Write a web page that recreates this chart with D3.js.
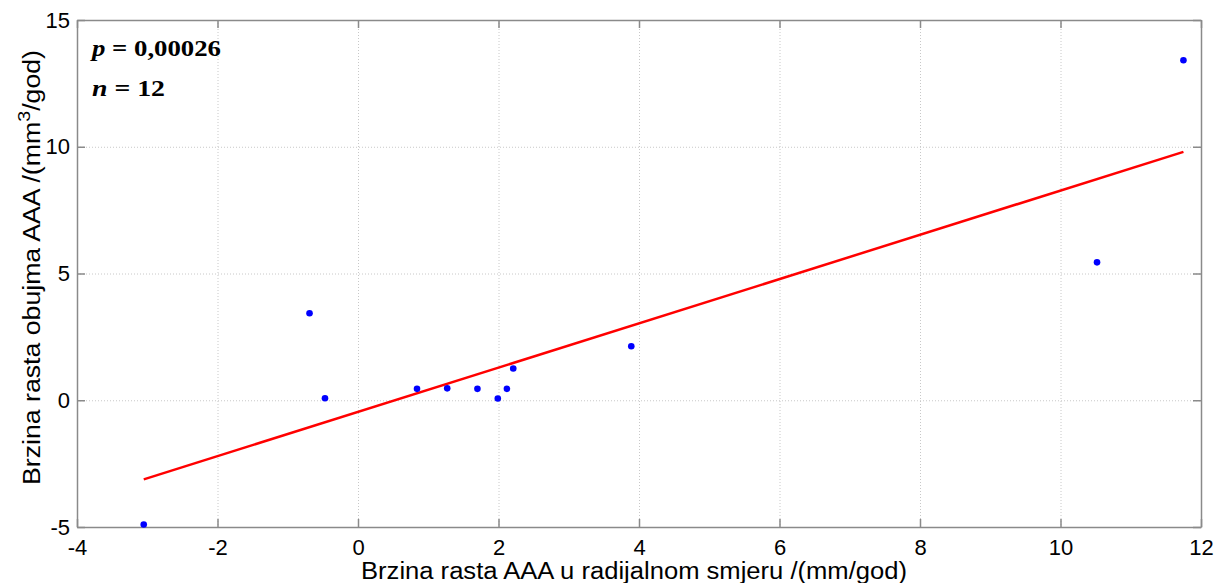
<!DOCTYPE html>
<html>
<head>
<meta charset="utf-8">
<script src="https://cdn.jsdelivr.net/npm/d3@7"></script>
<style>
  body { margin: 0; background: #fff; }
  .axis text { font-family: "Liberation Sans", Arial, sans-serif; font-size: 22px; fill: #000; }
  .ann { font-family: "Liberation Serif", "Times New Roman", serif; font-weight: bold; font-size: 24px; }
</style>
</head>
<body>
<div id="chart"></div>
<script>
// radial growth rate (mm/god) and volume growth rate (mm3/god)
var radialRate = [-3.05, -0.69, -0.47, 0.84, 1.27, 1.70, 1.99, 2.12, 2.21, 3.89, 10.52, 11.75];
var volumeRate = [-4.90, 3.43, 0.08, 0.45, 0.47, 0.45, 0.07, 0.45, 1.25, 2.13, 5.44, 13.41];
// fitted line end points
var fitX = [-3.05, 11.75];
var fitY = [-3.12, 9.80];
var xTicks = [-4, -2, 0, 2, 4, 6, 8, 10, 12];
var yTicks = [-5, 0, 5, 10, 15];

var W = 1222, H = 583;
var mLeft = 77, mTop = 20, mRight = 1201, mBottom = 527;

var svg = d3.select('#chart').append('svg')
  .attr('width', W).attr('height', H);

var x = d3.scaleLinear().domain([-4, 12]).range([mLeft, mRight]),
    y = d3.scaleLinear().domain([-5, 15]).range([mBottom, mTop]);

// grid
var grid = svg.append('g').attr('stroke', '#c8c8c8').attr('stroke-width', 1)
  .attr('stroke-dasharray', '1,2');
grid.selectAll('.gx').data(xTicks.slice(1, -1)).enter().append('line')
  .attr('x1', function(d) { return x(d) + 0.5; }).attr('x2', function(d) { return x(d) + 0.5; })
  .attr('y1', mTop).attr('y2', mBottom);
grid.selectAll('.gy').data(yTicks.slice(1, -1)).enter().append('line')
  .attr('y1', function(d) { return y(d) + 0.5; }).attr('y2', function(d) { return y(d) + 0.5; })
  .attr('x1', mLeft).attr('x2', mRight);

// axes (box style, ticks inside)
var axColor = '#8a8a8a';
function styleAxis(g) {
  g.select('.domain').attr('stroke', axColor).attr('stroke-width', 1.5);
  g.selectAll('.tick line').attr('stroke', axColor).attr('stroke-width', 1.5);
}
svg.append('g').attr('class', 'axis')
  .attr('transform', 'translate(0,' + mBottom + ')')
  .call(d3.axisBottom(x).tickValues(xTicks).tickSizeInner(-8).tickSizeOuter(0).tickPadding(12))
  .call(styleAxis);
svg.append('g').attr('class', 'axis')
  .attr('transform', 'translate(0,' + mTop + ')')
  .call(d3.axisTop(x).tickValues(xTicks).tickSizeInner(-8).tickSizeOuter(0).tickFormat(''))
  .call(styleAxis);
svg.append('g').attr('class', 'axis')
  .attr('transform', 'translate(' + mLeft + ',0)')
  .call(d3.axisLeft(y).tickValues(yTicks).tickSizeInner(-8).tickSizeOuter(0).tickPadding(7))
  .call(styleAxis);
svg.append('g').attr('class', 'axis')
  .attr('transform', 'translate(' + mRight + ',0)')
  .call(d3.axisRight(y).tickValues(yTicks).tickSizeInner(-8).tickSizeOuter(0).tickFormat(''))
  .call(styleAxis);
svg.selectAll('.axis text').text(function() { return this.textContent.replace('\u2212', '-'); });

// fitted line
svg.append('line')
  .attr('x1', x(fitX[0])).attr('y1', y(fitY[0]))
  .attr('x2', x(fitX[1])).attr('y2', y(fitY[1]))
  .attr('stroke', '#ff0000').attr('stroke-width', 2.5);

// points
svg.selectAll('.pt').data(radialRate).enter().append('circle')
  .attr('cx', function(d) { return x(d); })
  .attr('cy', function(d, i) { return y(volumeRate[i]); })
  .attr('r', 3.3).attr('fill', '#0000ff');

// annotation
var t1 = svg.append('text').attr('class', 'ann').attr('x', 92).attr('y', 56)
  .attr('textLength', 129).attr('lengthAdjust', 'spacingAndGlyphs');
t1.append('tspan').attr('font-style', 'italic').text('p');
t1.append('tspan').text(' = 0,00026');
var t2 = svg.append('text').attr('class', 'ann').attr('x', 92).attr('y', 96)
  .attr('textLength', 73).attr('lengthAdjust', 'spacingAndGlyphs');
t2.append('tspan').attr('font-style', 'italic').text('n');
t2.append('tspan').text(' = 12');

// axis labels
svg.append('text')
  .attr('x', 361).attr('y', 579)
  .attr('textLength', 546).attr('lengthAdjust', 'spacingAndGlyphs')
  .attr('font-family', '"Liberation Sans", Arial, sans-serif').attr('font-size', 23)
  .text('Brzina rasta AAA u radijalnom smjeru /(mm/god)');
var yl = svg.append('text')
  .attr('transform', 'translate(40,485) rotate(-90)')
  .attr('textLength', 435).attr('lengthAdjust', 'spacingAndGlyphs')
  .attr('font-family', '"Liberation Sans", Arial, sans-serif').attr('font-size', 23);
yl.append('tspan').text('Brzina rasta obujma AAA /(mm');
yl.append('tspan').attr('dy', -10).attr('font-size', 17).text('3');
yl.append('tspan').attr('dy', 10).text('/god)');
</script>
</body>
</html>
